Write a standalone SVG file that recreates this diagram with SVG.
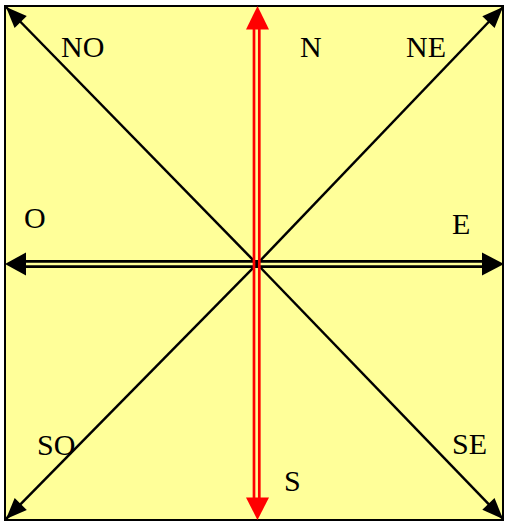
<svg xmlns="http://www.w3.org/2000/svg" width="506" height="524" viewBox="0 0 506 524">
  <style>
    .lbl { font-family: "Liberation Serif", "Times New Roman", serif; font-size: 30px; fill: #000; }
    .diag { stroke: #000; stroke-width: 2.5; fill: none; }
    .blk { stroke: #000; stroke-width: 2.7; fill: none; }
    .red { stroke: #FF0000; stroke-width: 2.7; fill: none; }
  </style>
  <defs>
    <marker id="ah" markerUnits="userSpaceOnUse" markerWidth="24" markerHeight="20" viewBox="-22 -10 24 20" refX="0" refY="0" orient="auto">
      <path d="M0,0 L-21,-8.5 L-21,8.5 Z" fill="#000"/>
    </marker>
  </defs>
  <rect x="0" y="0" width="506" height="524" fill="#ffffff"/>
  <g id="frame">
    <rect x="5" y="6" width="498" height="514" fill="#FFFF99" stroke="#000" stroke-width="2"/>
  </g>
  <g id="connectors">
    <line class="diag" x1="257" y1="264" x2="6" y2="7" marker-end="url(#ah)"/>
    <line class="diag" x1="257" y1="264" x2="503" y2="7" marker-end="url(#ah)"/>
    <line class="diag" x1="257" y1="264" x2="6" y2="519" marker-end="url(#ah)"/>
    <line class="diag" x1="257" y1="264" x2="503" y2="519" marker-end="url(#ah)"/>
    <line class="blk" x1="24" y1="261.3" x2="483" y2="261.3"/>
    <line class="blk" x1="24" y1="266.7" x2="483" y2="266.7"/>
    <polygon points="5,264 26,252.5 26,275.5" fill="#000"/>
    <polygon points="504,264 482,252.5 482,275.5" fill="#000"/>
    <line class="red" x1="254" y1="28" x2="254" y2="499"/>
    <line class="red" x1="259.3" y1="28" x2="259.3" y2="499"/>
    <polygon points="257.5,6 246,29.5 269,29.5" fill="#FF0000"/>
    <polygon points="257.5,520 246,497.5 269,497.5" fill="#FF0000"/>
  </g>
  <g id="label-NO"><text class="lbl" x="61" y="57">NO</text></g>
  <g id="label-N"><text class="lbl" x="300" y="57">N</text></g>
  <g id="label-NE"><text class="lbl" x="406" y="57">NE</text></g>
  <g id="label-O"><text class="lbl" x="24" y="228">O</text></g>
  <g id="label-E"><text class="lbl" x="452" y="234">E</text></g>
  <g id="label-SO"><text class="lbl" x="37" y="455">SO</text></g>
  <g id="label-SE"><text class="lbl" x="452" y="454">SE</text></g>
  <g id="label-S"><text class="lbl" x="284" y="491">S</text></g>
</svg>
